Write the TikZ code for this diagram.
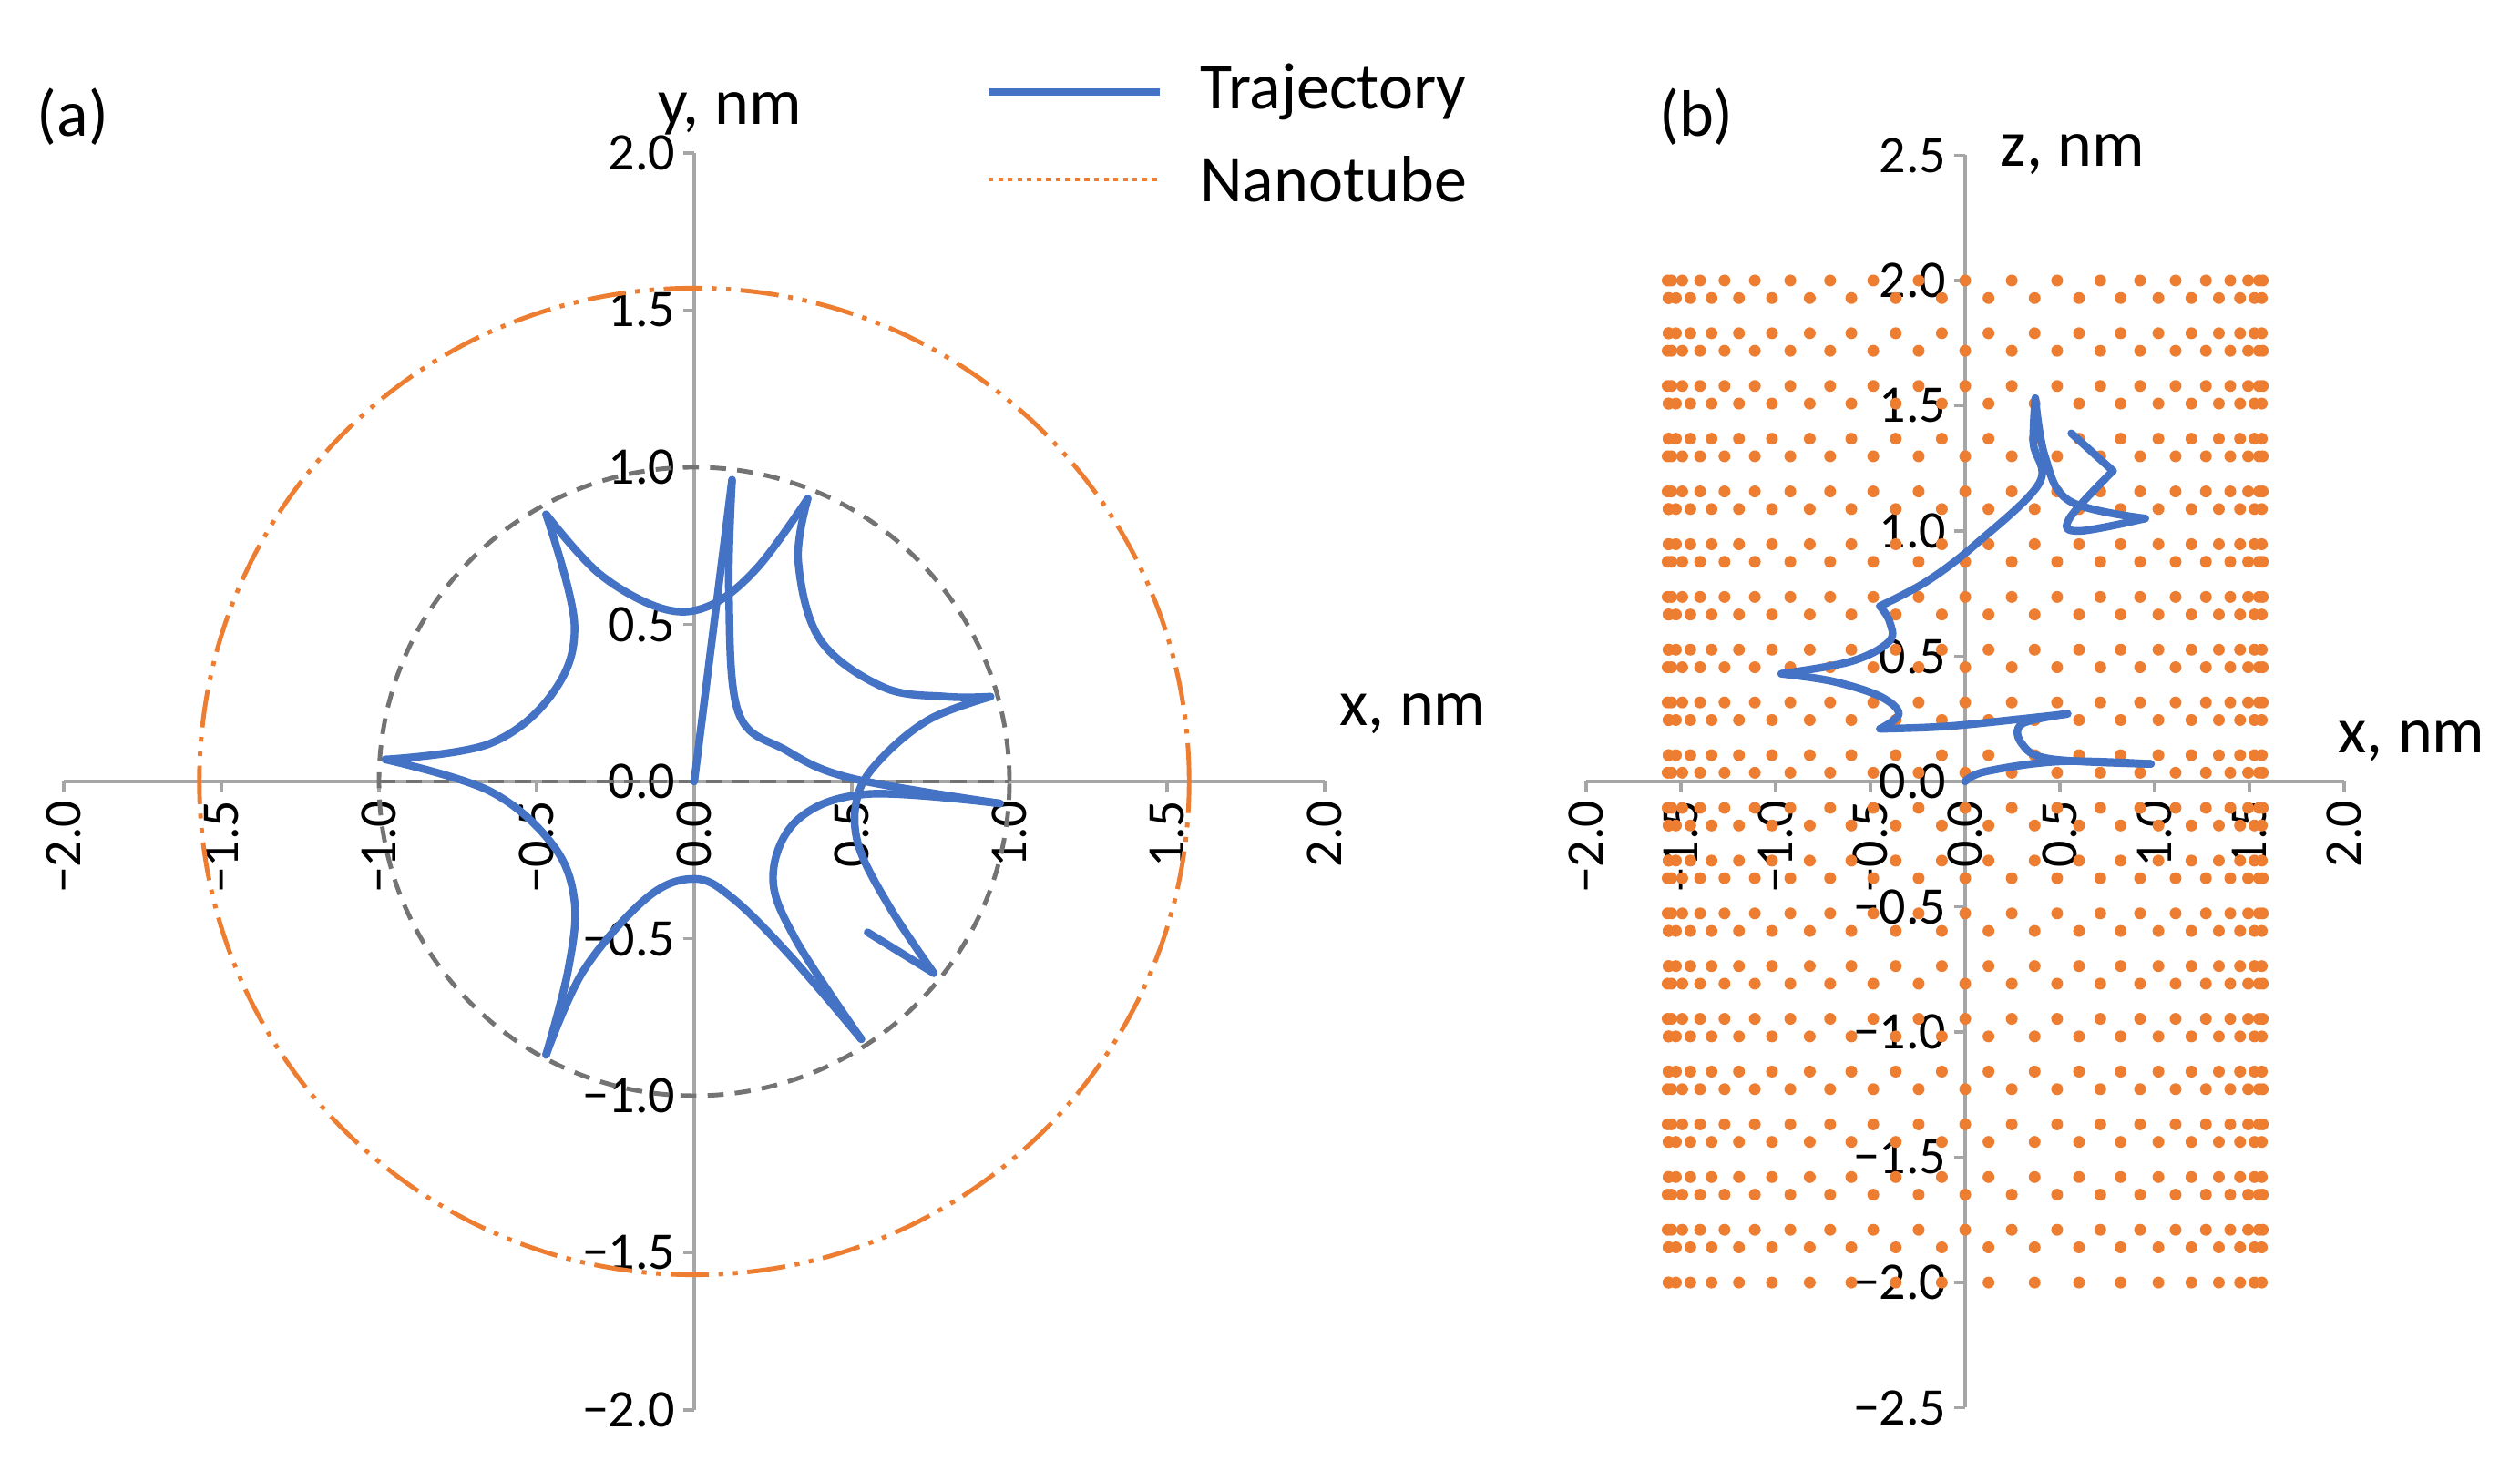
\documentclass[tikz,border=0pt]{standalone}
\usepackage{fontspec}
\setmainfont{Carlito}
\begin{document}
\begin{tikzpicture}[
  axis/.style={draw=black!35, line width=0.9pt},
  tick/.style={font=\fontsize{16.5}{16.5}\selectfont},
  lab/.style={font=\fontsize{20.5}{20.5}\selectfont},
  traj/.style={draw={rgb,255:red,68;green,114;blue,196}, line width=2.4pt, line join=round, line cap=round},
  tube/.style={draw={rgb,255:red,237;green,125;blue,49}, line width=1.4pt, dash pattern=on 12pt off 3pt on 1.5pt off 3pt on 1.5pt off 3pt},
  inner/.style={draw=black!55, line width=1.4pt, dash pattern=on 5pt off 3.5pt},
  dot/.style={fill={rgb,255:red,237;green,125;blue,49}}
]
\useasboundingbox (0,0) rectangle (27.66,16.15);
% ---------- (a)
\begin{scope}[shift={(7.62,7.57)}, x=3.46cm, y=3.45cm]
  \draw[axis] (-2,0) -- (2,0);
  \draw[axis] (0,-2) -- (0,2);
  \foreach \v in {-2,-1.5,...,2.01}{
    \draw[axis] (\v,0) -- ++(0,-0.12cm);
    \draw[axis] (0,\v) -- ++(-0.12cm,0);
  }
  \foreach \v/\t [count=\i] in {-2/−2.0,-1.5/−1.5,-1/−1.0,-0.5/−0.5,0/0.0,0.5/0.5,1/1.0,1.5/1.5,2/2.0}{
    \node[tick, rotate=90, anchor=east, inner sep=0pt] (ax\i) at ([yshift=-0.2cm]\v,0) {\t};
    \node[tick, anchor=east, inner sep=0pt] (ay\i) at ([xshift=-0.2cm]0,\v) {\t};
  }
  \draw[inner] (0,0) circle[radius=1];
  \draw[inner] (-1,0) -- (1,0);
  \draw[tube] (0,0) circle[radius=1.57];
  \draw[traj] (0,0) -- (0.12,0.96);
  \draw[traj] plot[smooth, tension=0.6] coordinates {(0.12,0.96) (0.11,0.6) (0.14,0.22) (0.29,0.10) (0.5,0.01) (0.97,-0.07)};
  \draw[traj] plot[smooth, tension=0.6] coordinates {(0.97,-0.07) (0.55,-0.04) (0.33,-0.12) (0.25,-0.3) (0.32,-0.5) (0.53,-0.82)};
  \draw[traj] plot[smooth, tension=0.6] coordinates {(0.53,-0.82) (0.3,-0.55) (0.12,-0.37) (0.0,-0.31) (-0.15,-0.37) (-0.35,-0.6) (-0.47,-0.87)};
  \draw[traj] plot[smooth, tension=0.6] coordinates {(-0.47,-0.87) (-0.4,-0.6) (-0.38,-0.38) (-0.45,-0.2) (-0.65,-0.03) (-0.98,0.07)};
  \draw[traj] plot[smooth, tension=0.6] coordinates {(-0.98,0.07) (-0.65,0.12) (-0.45,0.28) (-0.38,0.5) (-0.47,0.85)};
  \draw[traj] plot[smooth, tension=0.6] coordinates {(-0.47,0.85) (-0.3,0.66) (-0.1,0.55) (0.05,0.56) (0.2,0.68) (0.36,0.9)};
  \draw[traj] plot[smooth, tension=0.6] coordinates {(0.36,0.9) (0.33,0.7) (0.4,0.45) (0.6,0.3) (0.8,0.27) (0.94,0.27)};
  \draw[traj] plot[smooth, tension=0.6] coordinates {(0.94,0.27) (0.75,0.2) (0.6,0.08) (0.52,-0.04) (0.52,-0.2) (0.62,-0.4) (0.76,-0.61)};
  \draw[traj] (0.76,-0.61) -- (0.55,-0.48);
\end{scope}
\node[lab] (la) at (0.80,14.87) {(a)};
\node[lab] (ly) at (8.01,14.90) {y, nm};
\node[lab] (lx) at (15.51,8.31) {x, nm};
% legend
\coordinate (l1a) at (10.85,15.14);
\coordinate (l1b) at (12.73,15.14);
\coordinate (l2a) at (10.85,14.18);
\coordinate (l2b) at (12.73,14.18);
\draw[traj, line cap=butt] (l1a) -- (l1b);
\draw[draw={rgb,255:red,237;green,125;blue,49}, line width=1.3pt, dash pattern=on 1.5pt off 1.5pt] (l2a) -- (l2b);
\node[lab, anchor=west] (lt) at (13.05,15.14) {Trajectory};
\node[lab, anchor=west] (ln) at (13.05,14.18) {Nanotube};
% ---------- (b)
\begin{scope}[shift={(21.57,7.57)}, x=2.08cm, y=2.75cm]
  \draw[axis] (-2,0) -- (2,0);
  \draw[axis] (0,-2.5) -- (0,2.5);
  \foreach \v in {-2,-1.5,...,2.01} \draw[axis] (\v,0) -- ++(0,-0.12cm);
  \foreach \v in {-2.5,-2,...,2.51} \draw[axis] (0,\v) -- ++(-0.12cm,0);
  \foreach \v/\t [count=\i] in {-2/−2.0,-1.5/−1.5,-1/−1.0,-0.5/−0.5,0/0.0,0.5/0.5,1/1.0,1.5/1.5,2/2.0}
    \node[tick, rotate=90, anchor=east, inner sep=0pt] (bx\i) at ([yshift=-0.2cm]\v,0) {\t};
  \foreach \v/\t [count=\i] in {-2.5/−2.5,-2/−2.0,-1.5/−1.5,-1/−1.0,-0.5/−0.5,0/0.0,0.5/0.5,1/1.0,1.5/1.5,2/2.0,2.5/2.5}
    \node[tick, anchor=east, inner sep=0pt] (bz\i) at ([xshift=-0.2cm]0,\v) {\t};
  \foreach \m in {0,...,9}{
    \foreach \o/\ph in {0/0,1/0.5,3/0.5,4/0}{
      \pgfmathsetmacro\zz{2-\m*0.4211-\o*0.4211/6}
      \ifdim\zz pt>-2.01pt
        \foreach \k in {0,...,20}{
          \fill[dot] ({1.57*cos((\k+\ph)*9)},\zz) circle[radius=0.065cm];
        }
      \fi
    }
  }
  \draw[traj] plot[smooth, tension=0.6] coordinates {(0,0) (0.11,0.04) (0.5,0.08) (0.98,0.07)};
  \draw[traj] plot[smooth, tension=0.6] coordinates {(0.98,0.07) (0.45,0.09) (0.3,0.15) (0.3,0.23) (0.54,0.27)};
  \draw[traj] plot[smooth, tension=0.6] coordinates {(0.54,0.27) (0.3,0.25) (-0.1,0.22) (-0.45,0.21)};
  \draw[traj] plot[smooth, tension=0.6] coordinates {(-0.45,0.21) (-0.35,0.27) (-0.45,0.34) (-0.7,0.4) (-0.97,0.43)};
  \draw[traj] plot[smooth, tension=0.6] coordinates {(-0.97,0.43) (-0.6,0.48) (-0.4,0.56) (-0.4,0.64) (-0.45,0.7)};
  \draw[traj] plot[smooth, tension=0.6] coordinates {(-0.45,0.7) (-0.2,0.8) (0.06,0.95) (0.39,1.19) (0.36,1.35) (0.37,1.53)};
  \draw[traj] plot[smooth, tension=0.6] coordinates {(0.37,1.53) (0.42,1.3) (0.55,1.12) (0.95,1.05)};
  \draw[traj] plot[smooth, tension=0.6] coordinates {(0.95,1.05) (0.6,1.0) (0.55,1.05) (0.78,1.24)};
  \draw[traj] (0.78,1.24) -- (0.56,1.39);
\end{scope}
\node[lab] (lb) at (18.62,14.87) {(b)};
\node[lab] (lz) at (22.75,14.45) {z, nm};
\node[lab] (lx2) at (26.47,8.01) {x, nm};
\end{tikzpicture}
\end{document}
